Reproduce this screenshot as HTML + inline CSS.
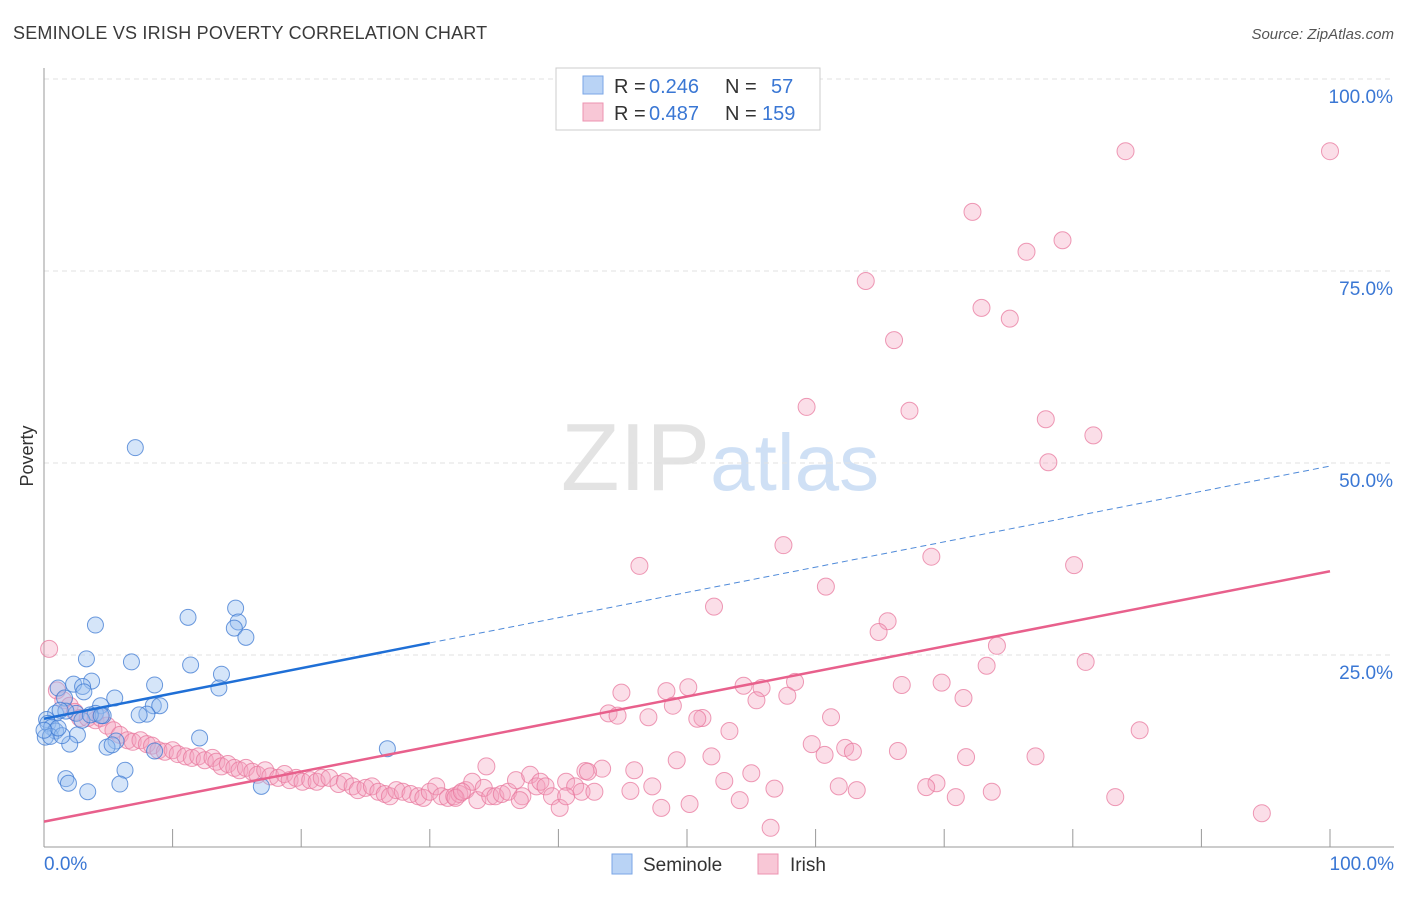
<!DOCTYPE html>
<html><head><meta charset="utf-8">
<style>
body{margin:0;background:#fff;font-family:"Liberation Sans",sans-serif;}
svg text{font-family:"Liberation Sans",sans-serif;}
</style></head>
<body>
<svg id="chart" width="1406" height="892" xmlns="http://www.w3.org/2000/svg">
<text x="13" y="39" font-size="18" fill="#3a3a3a" letter-spacing="0.2">SEMINOLE VS IRISH POVERTY CORRELATION CHART</text>
<text x="1394" y="39" font-size="15" fill="#555" text-anchor="end" font-style="italic">Source: ZipAtlas.com</text>
<text x="720" y="490" font-size="96" fill="#e3e3e3" text-anchor="middle" font-family="Liberation Serif">ZIP<tspan fill="#cfe0f5" font-family="Liberation Sans" font-size="80">atlas</tspan></text>
<text x="33" y="456" font-size="18" fill="#333" text-anchor="middle" transform="rotate(-90 33 456)">Poverty</text>
<g id="grid"></g>
<g id="axes"></g>
<g id="marks"></g>
<g id="lines"></g>
<g>
<rect x="556" y="68" width="264" height="62" fill="#fff" stroke="#ccc"/>
<rect x="583" y="76" width="20" height="18" fill="#b9d3f5" stroke="#7aa6e6"/>
<rect x="583" y="103" width="20" height="18" fill="#f8c7d6" stroke="#ec93b0"/>
<text y="93" font-size="20" fill="#333"><tspan x="614">R = </tspan><tspan x="649" fill="#3a77d4">0.246</tspan><tspan x="725">N =</tspan><tspan x="771" fill="#3a77d4">57</tspan></text>
<text y="120" font-size="20" fill="#333"><tspan x="614">R = </tspan><tspan x="649" fill="#3a77d4">0.487</tspan><tspan x="725">N =</tspan><tspan x="762" fill="#3a77d4">159</tspan></text>
</g>
<g>
<rect x="612" y="854" width="20" height="20" fill="#b9d3f5" stroke="#7aa6e6"/>
<text x="643" y="871" font-size="19" fill="#333">Seminole</text>
<rect x="758" y="854" width="20" height="20" fill="#f8c7d6" stroke="#ec93b0"/>
<text x="790" y="871" font-size="19" fill="#333">Irish</text>
</g>
</svg>
<script>
const yTicks=[25,50,75,100];
const yTickLabels=["25.0%","50.0%","75.0%","100.0%"];
const xTicks=[0,10,20,30,40,50,60,70,80,90,100];
const xEndLabels=["0.0%","100.0%"];
const seminoleX=[7.1,4.0,11.2,14.9,15.1,14.8,15.7,3.3,6.8,11.4,13.8,8.6,13.6,1.1,3.7,2.3,3.0,3.1,1.6,5.5,4.4,8.5,9.0,8.0,7.4,0.9,2.5,1.7,4.0,4.6,0.2,0.3,0.6,0.9,0.1,0.5,5.6,2.6,2.0,4.9,5.3,12.1,6.3,1.7,1.9,3.4,5.9,16.9,26.7,1.4,1.1,0.0,8.6,2.95,3.6,1.25,4.45];
const seminoleY=[52.0,28.9,29.9,31.1,29.3,28.5,27.3,24.5,24.1,23.7,22.5,21.1,20.7,20.7,21.6,21.2,20.9,20.2,19.4,19.4,18.4,18.4,18.4,17.3,17.2,17.4,17.4,17.7,17.4,17.1,16.6,16.1,15.6,15.1,14.3,14.4,13.8,14.6,13.4,13.0,13.3,14.2,10.0,8.9,8.3,7.2,8.2,7.9,12.8,14.5,15.5,15.2,12.5,16.5,17.2,17.8,17.1];
const irishPx=[[1126,151],[1330,151],[972,212],[1062,240],[1026,252],[866,281],[981,308],[1010,319],[894,340],[807,407],[909,411],[1046,419],[1093,435],[1049,462],[783,545],[640,566],[931,557],[1074,565],[714,607],[826,587],[887,621],[878,632],[997,646],[1086,662],[987,666],[942,683],[902,685],[795,682],[743,686],[761,688],[688,687],[666,691],[621,693],[757,700],[787,696],[964,698],[673,706],[609,713],[617,716],[648,717],[702,718],[697,719],[831,717],[730,731],[1140,730],[812,744],[845,748],[853,752],[898,751],[824,755],[711,756],[677,760],[966,757],[1036,756],[602,769],[586,771],[634,770],[751,773],[724,781],[936,783],[926,787],[839,786],[857,790],[775,789],[630,791],[652,786],[740,800],[690,804],[661,808],[956,797],[992,792],[1115,797],[770,828],[1262,813],[49,649],
[57,690],[63,700],[70,706],[75,712],[80,718],[88,718],[95,720],[100,718],[107,726],[113,730],[120,735],[128,740],[133,742],[140,740],[147,744],[152,746],[158,750],[165,752],[172,750],[178,754],[185,756],[192,758],[198,756],[205,760],[212,758],[216,762],[222,766],[228,764],[234,768],[240,770],[246,768],[252,772],[258,775],[265,770],[270,776],[278,778],[284,774],[290,780],[296,778],[302,782],[310,780],[316,782],[322,778],[330,778],[338,784],[345,782],[352,786],[358,790],[365,788],[372,786],[378,792],[385,794],[390,796],[396,790],[403,792],[410,794],[418,796],[424,798],[430,792],[436,786],[442,796],[448,798],[454,796],[460,794],[466,790],[472,782],[478,800],[484,788],[490,796],[496,796],[502,794],[508,792],[516,780],[522,796],[530,775],[536,786],[540,782],[546,786],[552,796],[560,808],[566,782],[575,786],[582,792],[588,772],[594,792],[486,766],[566,796],[520,800],[456,798],[462,792]];
const irishX=irishPx.map(p=>+((p[0]-44)/12.86).toFixed(1));
const irishY=irishPx.map(p=>+((847-p[1])/7.68).toFixed(1));
const seminoleFit=[16.7,49.6];
const irishFit=[3.3,35.9];
const NS="http://www.w3.org/2000/svg";
const X=v=>44+v*12.86, Y=v=>847-v*7.68;
function mk(tag,attrs,parent){const e=document.createElementNS(NS,tag);for(const k in attrs)e.setAttribute(k,attrs[k]);document.getElementById(parent).appendChild(e);return e;}
yTicks.forEach((t,i)=>{
 const g=mk('line',{x1:44,x2:1394,y1:Y(t),y2:Y(t),stroke:'#e2e2e2','stroke-dasharray':'5,4'},'grid');
 
 
 const l=mk('text',{x:1393,y:Y(t)+24,'font-size':19,fill:'#3a77d4','text-anchor':'end'},'axes');
 l.textContent=yTickLabels[i];
 
 
});
const ax=mk('line',{x1:44,x2:44,y1:68,y2:847,stroke:'#999'},'axes');


const bx=mk('line',{x1:44,x2:1394,y1:847,y2:847,stroke:'#999'},'axes');


xTicks.forEach(t=>{
 const k=mk('line',{x1:X(t),x2:X(t),y1:829,y2:847,stroke:'#999'},'axes');
 
 
});
[[0,'start',44],[100,'end',1394]].forEach((d,i)=>{
 const l=mk('text',{x:d[2],y:870,'font-size':19,fill:'#3a77d4','text-anchor':d[1]},'axes');
 l.textContent=xEndLabels[i];
 
 
});
irishX.forEach((x,i)=>{
 const c=mk('circle',{cx:X(x),cy:Y(irishY[i]),r:8.5,fill:'rgba(244,160,188,0.35)',stroke:'rgba(232,120,158,0.75)','stroke-width':1},'marks');
 
 
});
seminoleX.forEach((x,i)=>{
 const c=mk('circle',{cx:X(x),cy:Y(seminoleY[i]),r:8,fill:'rgba(150,190,240,0.4)',stroke:'rgba(60,120,210,0.75)','stroke-width':1},'marks');
 
 
});
const sf=x=>seminoleFit[0]+(seminoleFit[1]-seminoleFit[0])*x/100;
const ifn=x=>irishFit[0]+(irishFit[1]-irishFit[0])*x/100;
const l1=mk('line',{x1:X(0),y1:Y(sf(0)),x2:X(30),y2:Y(sf(30)),stroke:'#1f6fd6','stroke-width':2.5},'lines');


const l2=mk('line',{x1:X(30),y1:Y(sf(30)),x2:X(100),y2:Y(sf(100)),stroke:'#4f8ad9','stroke-width':1,'stroke-dasharray':'6,4'},'lines');


const l3=mk('line',{x1:X(0),y1:Y(ifn(0)),x2:X(100),y2:Y(ifn(100)),stroke:'#e8608c','stroke-width':2.5},'lines');


</script>
</body></html>
